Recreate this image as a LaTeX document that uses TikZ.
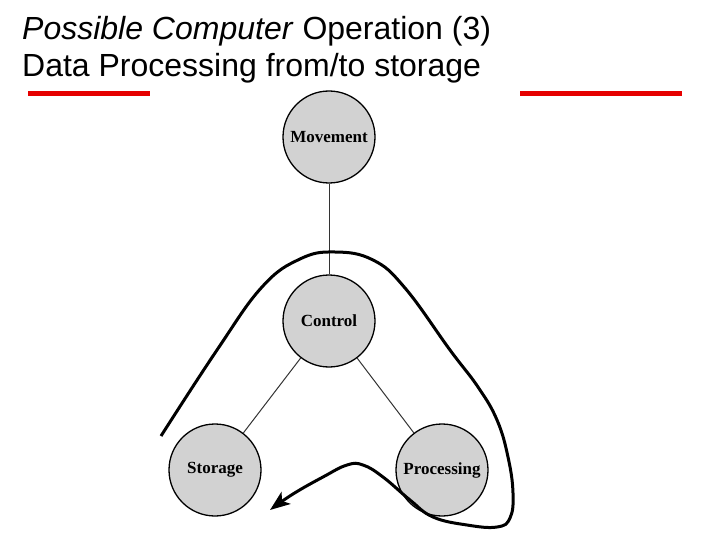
\documentclass[tikz,border=0pt]{standalone}
\usepackage{fontspec}
\setmainfont{Liberation Sans}
\newfontfamily\serifbold{Liberation Serif}
\usetikzlibrary{arrows.meta}
\definecolor{nodefill}{RGB}{210,210,210}
\definecolor{redbar}{RGB}{230,0,0}
\begin{document}
\begin{tikzpicture}[x=1pt,y=-1pt,
  unit/.style={circle,draw=black,line width=1.3pt,fill=nodefill,minimum size=92pt,inner sep=0pt,
    font=\serifbold\bfseries\fontsize{17}{19}\selectfont},
  link/.style={draw=black!80,line width=1pt},
  titletext/.style={anchor=base west,inner sep=0pt,font=\fontsize{32}{36}\selectfont},
  bar/.style={draw=redbar,line width=5pt},
  flow/.style={line width=3pt,-{Stealth[length=20pt,width=15pt,inset=5pt]}}]
\useasboundingbox (0,0) rectangle (720,540);
\node[titletext] (t1) at (22,40) {\textit{Possible Computer} Operation (3)};
\node[titletext] (t2) at (22,77) {Data Processing from/to storage};
\draw[bar] (28,94) -- (150,94);
\draw[bar] (520,94) -- (682,94);
\node[unit] (mov) at (329,137) {Movement};
\node[unit] (ctl) at (329,321) {Control};
\node[unit] (sto) at (215,470) {Storage};
\node[unit] (pro) at (442,470) {Processing};
\draw[link] (mov) -- (ctl);
\draw[link] (ctl) -- (sto);
\draw[link] (ctl) -- (pro);
\draw[flow] plot[smooth,tension=0.7] coordinates {
 (161,436) (217,350) (262,287) (300,259) (335,252) (373,260) (405,288)
 (450,350) (478,387) (497,420) (508,457) (513,493) (510,518)
 (497,527) (467,525) (433,517) (410,500) (383,477) (363,465) (347,465)
 (323,477) (293,494) (270,510)};
\end{tikzpicture}
\end{document}
